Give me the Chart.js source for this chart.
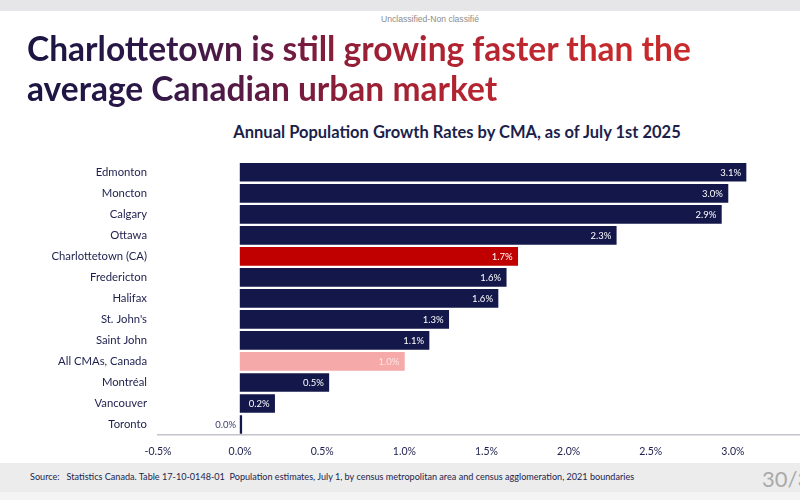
<!DOCTYPE html>
<html><head><meta charset="utf-8">
<script src="https://cdn.jsdelivr.net/npm/chart.js@4.4.1/dist/chart.umd.min.js"></script>
<style>
html,body{margin:0;padding:0;width:800px;height:500px;overflow:hidden;background:#fff;font-family:Lato,'Noto Sans',sans-serif;}
#topband{position:absolute;left:0;top:0;width:800px;height:11px;background:#e6e6e8;}
#classif{position:absolute;top:14px;left:0;width:860px;text-align:center;font-family:'Liberation Sans',Arial,sans-serif;font-size:8.6px;color:#8c8c8c;}
#title{position:absolute;left:27px;top:28px;width:740px;font-weight:bold;font-size:33.5px;line-height:40px;
 background:linear-gradient(90deg,#1a1542 0px,#2a1747 110px,#4a1a46 190px,#6e1b40 260px,#951f36 330px,#ab2331 400px,#bd2730 500px,#c62a2b 600px,#c92c2a 740px);
 -webkit-background-clip:text;background-clip:text;color:transparent;}
#subtitle{position:absolute;left:0;top:122px;width:914px;text-align:center;font-weight:bold;font-size:16.5px;color:#1c1f4c;}
#wrap{position:absolute;left:0;top:144px;width:840px;height:315px;}
#footer{position:absolute;left:0;top:463px;width:800px;height:29px;background:#ececec;}
#bottomband{position:absolute;left:0;top:492px;width:800px;height:8px;background:#f4f4f4;}
#source{position:absolute;left:30px;top:471px;font-size:9.1px;color:#1c1f4c;white-space:pre;}
#page{position:absolute;left:762px;top:465px;font-size:22px;color:#a9a9a9;white-space:nowrap;}
</style></head>
<body>
<div id="topband"></div>
<div id="classif">Unclassified-Non classifié</div>
<div id="title">Charlottetown is still growing faster than the<br>average Canadian urban market</div>
<div id="subtitle">Annual Population Growth Rates by CMA, as of July 1st 2025</div>
<div id="wrap"><canvas id="c" width="840" height="315"></canvas></div>
<div id="footer"></div>
<div id="bottomband"></div>
<div id="source">Source:   Statistics Canada. Table 17-10-0148-01  Population estimates, July 1, by census metropolitan area and census agglomeration, 2021 boundaries</div>
<div id="page">30/33</div>
<script>
const categories = ["Edmonton","Moncton","Calgary","Ottawa","Charlottetown (CA)","Fredericton","Halifax","St. John's","Saint John","All CMAs, Canada","Montréal","Vancouver","Toronto"];
const growthRates = [3.08,2.97,2.93,2.29,1.69,1.62,1.57,1.27,1.15,1.0,0.54,0.21,0.01];
const axisMin = -0.5;
const axisMax = 3.5;
const axisStep = 0.5;
const highlightCity = "Charlottetown (CA)";
const averageCategory = "All CMAs, Canada";

const NAVY = '#14174a', RED = '#c00000', PINK = '#f6a9a9';
const barColors = categories.map(c => c === highlightCity ? RED : (c === averageCategory ? PINK : NAVY));

const valueLabels = {
  id: 'valueLabels',
  afterDatasetsDraw(chart) {
    const ctx = chart.ctx;
    const meta = chart.getDatasetMeta(0);
    ctx.save();
    ctx.font = '9.5px Lato, sans-serif';
    ctx.textBaseline = 'middle';
    ctx.textAlign = 'right';
    meta.data.forEach((bar, i) => {
      const txt = growthRates[i].toFixed(1) + '%';
      const w = ctx.measureText(txt).width;
      const len = bar.x - bar.base;
      if (len > w + 10) {
        ctx.fillStyle = categories[i] === averageCategory ? '#fde4e4' : '#ffffff';
        ctx.fillText(txt, bar.x - 5, bar.y + 0.5);
      } else {
        ctx.fillStyle = '#3a3e68';
        ctx.fillText(txt, bar.base - 4, bar.y + 0.5);
      }
    });
    ctx.restore();
  }
};

new Chart(document.getElementById('c'), {
  type: 'bar',
  data: {
    labels: categories,
    datasets: [{
      data: growthRates,
      backgroundColor: barColors,
      borderWidth: 0,
      barThickness: 18
    }]
  },
  options: {
    indexAxis: 'y',
    responsive: false,
    animation: false,
    events: [],
    layout: { padding: { top: 0, right: 25, left: 0, bottom: 0 } },
    plugins: { legend: { display: false }, tooltip: { enabled: false } },
    scales: {
      x: {
        min: axisMin, max: axisMax,
        grid: { display: false, drawTicks: false },
        border: { display: true, color: '#c3c3cb', width: 1.5 },
        ticks: {
          stepSize: axisStep,
          padding: 10,
          color: '#1c1f4c',
          font: { family: 'Lato, sans-serif', size: 10.5 },
          callback: v => v.toFixed(1) + '%'
        },
        afterFit: s => { s.height = 24; }
      },
      y: {
        grid: { display: false, drawTicks: false },
        border: { display: false },
        ticks: {
          padding: 11,
          color: '#1c1f4c',
          font: { family: 'Lato, sans-serif', size: 11.3 }
        },
        afterFit: s => { s.width = 158; }
      }
    }
  },
  plugins: [valueLabels]
});
</script>
</body></html>
